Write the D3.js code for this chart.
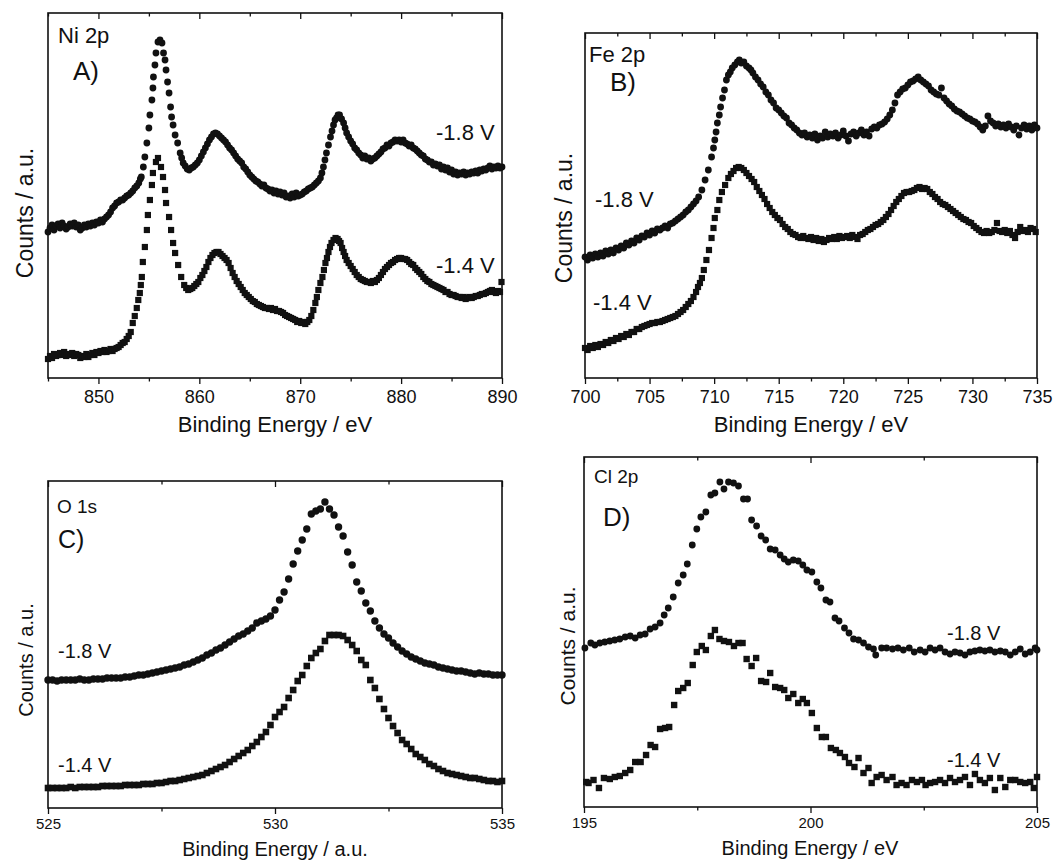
<!DOCTYPE html>
<html>
<head>
<meta charset="utf-8">
<script src="https://cdn.jsdelivr.net/npm/d3@7"></script>
<style>
  body { margin: 0; background: #fff; }
  svg { display: block; font-family: "Liberation Sans", Arial, sans-serif; }
</style>
</head>
<body>
<div id="chart"></div>
<script>

/* ---------------- DATA (binding energy, counts in a.u.) ---------------- */

// A) Ni 2p
const niHigh = [ // -1.8 V, circles
  [845.0,14.6],[845.2,15.0],[845.4,15.3],[845.6,14.8],[845.8,15.2],[846.0,15.4],[846.2,15.0],[846.4,15.5],
  [846.6,15.2],[846.8,14.9],[847.0,15.1],[847.2,15.4],[847.4,15.2],[847.6,15.5],[847.8,15.1],[848.0,15.3],
  [848.2,14.8],[848.4,15.0],[848.6,15.3],[848.8,15.1],[849.0,15.4],[849.2,15.2],[849.4,15.5],[849.6,15.3],
  [849.8,15.6],[850.0,15.5],[850.2,15.8],[850.4,15.6],[850.6,15.9],[850.8,16.1],[851.0,16.3],[851.2,16.6],
  [851.4,17.0],[851.6,17.2],[851.8,17.5],[852.0,17.6],[852.2,17.8],[852.4,17.8],[852.6,18.0],[852.8,18.2],
  [853.0,18.3],[853.2,18.5],[853.4,18.7],[853.6,19.0],[853.8,19.2],[854.0,19.5],[854.15,19.9],[854.25,20.1],
  [854.45,21.1],[854.6,22.1],[854.8,23.5],[855.0,25.0],[855.1,26.3],[855.3,27.8],[855.4,29.0],[855.45,30.1],
  [855.6,31.3],[855.7,32.5],[855.9,33.6],[856.1,33.8],[856.3,33.5],[856.45,32.5],[856.6,31.8],[856.7,30.8],
  [856.85,29.6],[857.0,28.5],[857.15,27.1],[857.25,26.1],[857.4,25.3],[857.6,24.3],[857.85,23.5],[858.1,22.5],
  [858.25,22.0],[858.4,21.5],[858.6,21.2],[858.8,20.9],[859.0,20.8],[859.2,21.0],[859.4,21.1],[859.6,21.3],
  [859.8,21.5],[860.0,21.8],[860.2,22.2],[860.4,22.6],[860.6,23.0],[860.8,23.4],[861.0,23.8],[861.2,24.1],
  [861.4,24.4],[861.6,24.5],[861.8,24.4],[862.0,24.2],[862.2,24.0],[862.4,23.8],[862.6,23.6],[862.8,23.3],
  [863.0,23.0],[863.2,22.8],[863.4,22.5],[863.6,22.2],[863.8,21.9],[864.0,21.7],[864.2,21.5],[864.4,21.1],
  [864.6,20.9],[864.8,20.6],[865.0,20.3],[865.2,20.1],[865.4,19.9],[865.6,19.7],[865.8,19.6],[866.0,19.4],
  [866.2,19.2],[866.4,19.3],[866.6,19.0],[866.8,18.9],[867.0,18.7],[867.2,18.8],[867.4,18.5],[867.6,18.7],
  [867.8,18.4],[868.0,18.6],[868.2,18.3],[868.4,18.5],[868.6,18.1],[868.8,18.2],[869.0,18.0],[869.2,18.4],
  [869.4,18.1],[869.6,18.5],[869.8,18.2],[870.0,18.3],[870.2,18.4],[870.4,18.6],[870.6,18.7],[870.8,18.9],
  [871.0,19.0],[871.2,19.1],[871.4,19.3],[871.6,19.5],[871.8,19.7],[872.0,20.0],[872.15,20.5],[872.3,21.1],
  [872.45,21.8],[872.6,22.5],[872.8,23.3],[873.0,24.1],[873.15,24.7],[873.3,25.3],[873.45,25.8],[873.6,26.0],
  [873.75,26.3],[873.9,26.3],[874.1,25.9],[874.3,25.5],[874.45,25.0],[874.6,24.5],[874.8,24.1],[875.0,23.7],
  [875.2,23.4],[875.4,23.0],[875.6,22.8],[875.8,22.5],[876.0,22.3],[876.2,22.0],[876.4,22.2],[876.6,21.9],
  [876.8,22.0],[877.0,21.7],[877.2,21.9],[877.4,22.0],[877.6,22.2],[877.8,22.4],[878.0,22.6],[878.2,22.9],
  [878.4,23.0],[878.6,23.3],[878.8,23.2],[879.0,23.5],[879.2,23.6],[879.4,23.8],[879.6,23.7],[879.8,23.8],
  [880.0,23.6],[880.2,23.8],[880.4,23.5],[880.6,23.4],[880.8,23.2],[881.0,23.3],[881.2,23.0],[881.4,22.9],
  [881.6,22.7],[881.8,22.5],[882.0,22.3],[882.2,22.2],[882.4,21.9],[882.6,21.8],[882.8,21.6],[883.0,21.6],
  [883.2,21.3],[883.4,21.4],[883.6,21.2],[883.8,21.3],[884.0,20.9],[884.2,21.1],[884.4,20.8],[884.6,21.0],
  [884.8,20.6],[885.0,20.8],[885.2,20.4],[885.4,20.6],[885.6,20.3],[885.8,20.5],[886.0,20.4],[886.2,20.6],
  [886.4,20.3],[886.6,20.5],[886.8,20.4],[887.0,20.6],[887.2,20.5],[887.4,20.7],[887.6,20.5],[887.8,20.8],
  [888.0,20.7],[888.2,20.9],[888.4,20.8],[888.6,21.0],[888.8,21.2],[889.0,20.9],[889.2,21.1],[889.4,21.0],
  [889.6,21.2],[889.8,21.0],[890.0,21.1]
];
const niLow = [ // -1.4 V, squares
  [845.0,1.9],[845.2,2.2],[845.4,2.0],[845.6,2.4],[845.8,2.2],[846.0,2.3],[846.2,2.5],[846.4,2.3],
  [846.6,2.6],[846.8,2.2],[847.0,2.4],[847.2,2.3],[847.4,2.5],[847.6,2.2],[847.8,2.4],[848.0,2.3],
  [848.2,2.0],[848.4,2.2],[848.6,2.1],[848.8,2.4],[849.0,2.1],[849.2,2.3],[849.4,2.5],[849.6,2.3],
  [849.8,2.6],[850.0,2.5],[850.2,2.7],[850.4,2.6],[850.6,2.8],[850.8,2.6],[851.0,2.7],[851.2,2.9],
  [851.4,2.7],[851.6,2.9],[851.8,3.0],[852.0,3.1],[852.2,3.3],[852.4,3.5],[852.6,3.6],[852.8,3.9],
  [853.0,4.2],[853.2,4.6],[853.4,5.5],[853.6,6.2],[853.8,7.0],[853.95,7.8],[854.1,8.5],[854.2,9.3],
  [854.3,10.1],[854.4,11.6],[854.6,13.1],[854.8,14.8],[854.9,16.3],[855.1,17.8],[855.3,19.3],[855.4,20.5],
  [855.7,21.6],[855.9,22.0],[856.2,21.1],[856.4,20.1],[856.6,18.8],[856.7,17.5],[857.0,16.1],[857.2,14.8],
  [857.4,13.5],[857.6,12.5],[857.9,11.3],[858.2,10.1],[858.5,9.3],[858.7,9.0],[858.9,8.8],[859.1,8.9],
  [859.3,9.0],[859.5,9.2],[859.7,9.4],[859.9,9.6],[860.1,10.0],[860.3,10.3],[860.5,10.7],[860.7,11.1],
  [860.9,11.6],[861.1,12.0],[861.3,12.3],[861.5,12.5],[861.7,12.6],[861.9,12.6],[862.1,12.4],[862.3,12.2],
  [862.5,12.0],[862.7,11.8],[862.9,11.5],[863.1,11.0],[863.3,10.5],[863.5,10.1],[863.7,9.7],[863.9,9.4],
  [864.1,9.1],[864.3,8.8],[864.5,8.5],[864.7,8.3],[864.9,8.1],[865.1,7.9],[865.3,7.7],[865.5,7.6],
  [865.7,7.4],[865.9,7.3],[866.1,7.2],[866.3,7.1],[866.5,7.0],[866.7,7.0],[866.9,6.9],[867.1,7.0],
  [867.3,6.8],[867.5,6.9],[867.7,6.7],[867.9,6.7],[868.1,6.6],[868.3,6.5],[868.5,6.3],[868.7,6.2],
  [868.9,6.1],[869.1,6.0],[869.3,5.9],[869.5,5.8],[869.7,5.6],[869.9,5.7],[870.1,5.5],[870.3,5.6],
  [870.5,5.4],[870.7,5.6],[870.9,5.8],[871.1,6.2],[871.3,6.8],[871.5,7.5],[871.65,8.1],[871.8,8.8],
  [872.0,9.5],[872.2,10.1],[872.35,10.8],[872.5,11.5],[872.65,12.0],[872.8,12.6],[872.95,13.1],[873.1,13.5],
  [873.3,13.8],[873.5,14.0],[873.7,13.9],[873.85,13.7],[874.0,13.5],[874.15,13.0],[874.3,12.6],[874.45,12.2],
  [874.6,11.8],[874.8,11.5],[875.0,11.2],[875.2,10.9],[875.4,10.6],[875.6,10.3],[875.8,10.1],[876.0,9.9],
  [876.2,9.8],[876.4,9.7],[876.6,9.6],[876.8,9.6],[877.0,9.5],[877.2,9.7],[877.4,9.6],[877.6,9.8],
  [877.8,10.0],[878.0,10.3],[878.2,10.6],[878.4,10.9],[878.6,11.1],[878.8,11.3],[879.0,11.5],[879.2,11.6],
  [879.4,11.8],[879.6,11.9],[879.8,12.0],[880.0,12.0],[880.2,11.9],[880.4,11.9],[880.6,11.8],[880.8,11.6],
  [881.0,11.4],[881.2,11.3],[881.4,11.0],[881.6,10.8],[881.8,10.6],[882.0,10.4],[882.2,10.1],[882.4,9.9],
  [882.6,9.7],[882.8,9.6],[883.0,9.4],[883.2,9.3],[883.4,9.2],[883.6,9.1],[883.8,9.0],[884.0,8.9],
  [884.2,8.8],[884.4,8.6],[884.6,8.6],[884.8,8.4],[885.0,8.3],[885.2,8.3],[885.4,8.2],[885.6,8.1],
  [885.8,8.1],[886.0,8.0],[886.2,8.1],[886.4,7.9],[886.6,8.0],[886.8,8.1],[887.0,8.0],[887.2,8.1],
  [887.4,8.2],[887.6,8.2],[887.8,8.3],[888.0,8.4],[888.2,8.4],[888.4,8.5],[888.6,8.6],[888.8,8.7],
  [889.0,8.8],[889.2,8.6],[889.4,8.5],[889.6,8.7],[889.8,8.6],[889.95,9.6]
];

// B) Fe 2p
const feHigh = [
  [700.0,12.1],[700.2,11.8],[700.4,12.3],[700.6,12.0],[700.8,12.4],[701.0,12.1],[701.2,12.5],[701.4,12.2],
  [701.6,12.7],[701.8,12.4],[702.0,12.8],[702.2,12.5],[702.4,13.0],[702.6,12.8],[702.8,13.2],[703.0,13.0],
  [703.2,13.5],[703.4,13.3],[703.6,13.7],[703.8,13.5],[704.0,14.0],[704.2,13.8],[704.4,14.2],[704.6,14.1],
  [704.8,14.5],[705.0,14.3],[705.2,14.7],[705.4,14.5],[705.6,14.9],[705.8,14.8],[706.0,15.0],[706.2,15.2],
  [706.4,15.0],[706.6,15.4],[706.8,15.5],[707.0,15.7],[707.2,15.9],[707.4,16.1],[707.6,16.3],[707.8,16.6],
  [708.0,16.8],[708.2,17.1],[708.4,17.4],[708.6,17.7],[708.8,18.1],[709.05,18.8],[709.3,19.8],[709.55,20.8],
  [709.8,22.1],[709.95,23.0],[710.05,23.8],[710.15,24.6],[710.25,25.5],[710.4,26.3],[710.5,27.1],[710.65,28.0],
  [710.8,28.8],[710.95,29.8],[711.1,30.3],[711.25,30.6],[711.4,31.0],[711.6,31.3],[711.8,31.6],[711.95,31.8],
  [712.1,31.5],[712.3,31.6],[712.5,31.2],[712.7,31.0],[712.85,30.8],[713.0,30.5],[713.2,30.1],[713.4,29.8],
  [713.6,29.4],[713.8,29.1],[714.0,28.6],[714.2,28.3],[714.4,27.8],[714.6,27.5],[714.8,27.0],[715.0,26.8],
  [715.2,26.5],[715.4,26.2],[715.6,26.0],[715.8,25.5],[716.0,25.3],[716.2,25.0],[716.4,24.8],[716.6,24.5],
  [716.8,24.3],[717.0,24.5],[717.2,24.1],[717.4,24.3],[717.6,24.0],[717.8,24.4],[718.0,23.8],[718.2,24.2],
  [718.4,24.0],[718.6,24.6],[718.8,24.1],[719.0,24.4],[719.2,24.2],[719.4,24.5],[719.6,24.0],[719.8,24.3],
  [720.0,24.7],[720.2,24.2],[720.4,23.7],[720.6,24.4],[720.8,24.6],[721.0,24.2],[721.2,24.5],[721.4,24.8],
  [721.6,24.3],[721.8,24.6],[722.0,24.2],[722.2,24.9],[722.4,25.1],[722.6,25.0],[722.8,25.3],[723.0,25.4],
  [723.2,25.6],[723.4,25.9],[723.6,26.3],[723.8,26.8],[724.0,27.5],[724.2,28.3],[724.4,28.6],[724.6,28.9],
  [724.8,29.0],[725.0,29.3],[725.2,29.6],[725.4,29.7],[725.6,29.9],[725.8,30.1],[726.0,29.8],[726.2,29.6],
  [726.4,29.4],[726.6,29.2],[726.8,28.8],[727.0,28.6],[727.2,28.4],[727.4,28.3],[727.6,29.0],[727.8,28.0],
  [728.0,27.7],[728.2,27.4],[728.4,27.2],[728.6,26.9],[728.8,26.7],[729.0,26.6],[729.2,26.4],[729.4,26.2],
  [729.6,26.0],[729.8,25.9],[730.0,25.7],[730.2,25.6],[730.4,25.4],[730.6,25.1],[730.8,24.8],[731.0,25.2],
  [731.2,26.2],[731.4,25.7],[731.6,25.5],[731.8,25.2],[732.0,25.4],[732.2,25.1],[732.4,25.3],[732.6,25.0],
  [732.8,25.4],[733.0,25.1],[733.2,24.8],[733.4,25.2],[733.6,24.3],[733.8,25.0],[734.0,25.3],[734.2,24.9],
  [734.4,25.2],[734.6,24.8],[734.8,25.3],[735.0,25.0]
];
const feLow = [
  [700.0,3.0],[700.2,2.8],[700.4,3.2],[700.6,3.0],[700.8,3.3],[701.0,3.1],[701.2,3.4],[701.4,3.3],
  [701.6,3.6],[701.8,3.5],[702.0,3.8],[702.2,3.7],[702.4,4.0],[702.6,3.9],[702.8,4.2],[703.0,4.1],
  [703.2,4.4],[703.4,4.3],[703.6,4.6],[703.8,4.6],[704.0,4.9],[704.2,4.9],[704.4,5.1],[704.6,5.2],
  [704.8,5.3],[705.0,5.4],[705.2,5.5],[705.4,5.5],[705.6,5.6],[705.8,5.6],[706.0,5.7],[706.2,5.8],
  [706.4,5.9],[706.6,6.0],[706.8,6.1],[707.0,6.2],[707.2,6.4],[707.4,6.6],[707.6,6.8],[707.8,7.1],
  [708.0,7.4],[708.2,7.7],[708.4,8.1],[708.6,8.6],[708.75,9.1],[708.9,9.5],[709.05,10.0],[709.2,10.8],
  [709.4,11.8],[709.6,12.8],[709.8,14.0],[709.95,15.0],[710.05,16.0],[710.25,16.8],[710.4,17.8],[710.6,18.6],
  [710.85,19.3],[711.1,20.0],[711.3,20.4],[711.5,20.7],[711.7,21.0],[711.9,21.1],[712.1,21.0],[712.3,20.8],
  [712.5,20.5],[712.7,20.2],[712.9,19.9],[713.1,19.6],[713.3,19.1],[713.5,18.7],[713.7,18.3],[713.9,17.9],
  [714.1,17.4],[714.3,17.0],[714.5,16.6],[714.7,16.3],[714.9,16.0],[715.1,15.8],[715.3,15.4],[715.5,15.1],
  [715.7,14.9],[715.9,14.6],[716.1,14.4],[716.3,14.3],[716.5,14.1],[716.7,14.0],[716.9,14.2],[717.1,14.0],
  [717.3,13.9],[717.5,14.1],[717.7,13.8],[717.9,14.0],[718.1,13.7],[718.3,13.9],[718.5,13.6],[718.7,13.8],
  [718.9,14.0],[719.1,13.9],[719.3,14.1],[719.5,13.9],[719.7,14.2],[719.9,14.0],[720.1,14.1],[720.3,14.2],
  [720.5,14.0],[720.7,14.3],[720.9,14.1],[721.1,13.9],[721.3,14.3],[721.5,14.4],[721.7,14.6],[721.9,14.8],
  [722.1,14.9],[722.3,15.1],[722.5,15.3],[722.7,15.4],[722.9,15.6],[723.1,15.8],[723.3,16.1],[723.5,16.4],
  [723.7,16.8],[723.9,17.2],[724.1,17.6],[724.3,17.9],[724.5,18.2],[724.7,18.5],[724.9,18.6],[725.1,18.6],
  [725.3,18.7],[725.5,18.8],[725.7,19.0],[725.9,19.1],[726.1,18.9],[726.3,19.0],[726.5,18.9],[726.7,18.6],
  [726.9,18.4],[727.1,18.1],[727.3,17.9],[727.5,17.6],[727.7,17.4],[727.9,17.3],[728.1,17.1],[728.3,16.9],
  [728.5,16.7],[728.7,16.5],[728.9,16.3],[729.1,16.1],[729.3,15.9],[729.5,15.8],[729.7,15.6],[729.9,15.5],
  [730.1,15.2],[730.3,15.0],[730.5,14.8],[730.7,14.6],[730.9,14.5],[731.1,14.7],[731.3,14.5],[731.5,14.6],
  [731.7,14.8],[731.9,15.5],[732.1,14.7],[732.3,14.6],[732.5,14.8],[732.7,14.5],[732.9,14.7],[733.1,14.3],
  [733.3,14.0],[733.5,14.6],[733.7,15.1],[733.9,14.7],[734.1,14.8],[734.3,14.6],[734.5,15.0],[734.7,14.9],
  [734.9,14.6]
];

// C) O 1s
const oHigh = [
  [525.0,12.8],[525.1,12.8],[525.2,12.7],[525.3,12.8],[525.4,12.8],[525.5,12.8],[525.6,12.8],[525.7,12.9],[525.8,12.8],[525.9,12.8],
  [526.0,12.9],[526.1,12.9],[526.2,12.9],[526.3,13.0],[526.4,13.0],[526.5,13.0],[526.6,13.0],[526.7,13.1],[526.8,13.1],[526.9,13.2],
  [527.0,13.3],[527.1,13.3],[527.2,13.4],[527.3,13.5],[527.4,13.6],[527.5,13.7],[527.6,13.8],[527.7,13.9],[527.8,14.0],[527.9,14.1],
  [528.0,14.3],[528.1,14.4],[528.2,14.6],[528.3,14.8],[528.4,15.0],[528.5,15.3],[528.6,15.5],[528.7,15.8],[528.8,16.0],[528.9,16.3],
  [529.0,16.6],[529.1,16.9],[529.2,17.2],[529.3,17.4],[529.4,17.7],[529.5,18.0],[529.6,18.5],[529.7,18.7],[529.8,18.9],[529.9,19.2],
  [530.0,19.8],[530.1,20.8],[530.2,21.6],[530.3,22.9],[530.4,24.4],[530.5,25.7],[530.6,26.8],[530.7,27.9],[530.8,29.4],[530.9,29.7],
  [531.0,29.9],[531.1,30.6],[531.2,29.9],[531.3,29.3],[531.4,28.1],[531.5,27.2],[531.6,25.6],[531.7,24.3],[531.8,22.6],[531.9,21.7],
  [532.0,20.5],[532.1,19.7],[532.2,18.7],[532.3,18.0],[532.4,17.4],[532.5,17.0],[532.6,16.5],[532.7,16.1],[532.8,15.7],[532.9,15.4],
  [533.0,15.1],[533.1,14.9],[533.2,14.7],[533.3,14.5],[533.4,14.4],[533.5,14.3],[533.6,14.1],[533.7,14.0],[533.8,13.9],[533.9,13.8],
  [534.0,13.7],[534.1,13.7],[534.2,13.6],[534.3,13.5],[534.4,13.4],[534.5,13.5],[534.6,13.4],[534.7,13.4],[534.8,13.3],[534.9,13.3],[535.0,13.3]
];
const oLow = [
  [525.0,2.0],[525.1,2.0],[525.2,2.0],[525.3,2.0],[525.4,2.0],[525.5,2.1],[525.6,2.0],[525.7,2.1],[525.8,2.1],[525.9,2.1],
  [526.0,2.1],[526.1,2.1],[526.2,2.2],[526.3,2.2],[526.4,2.2],[526.5,2.2],[526.6,2.2],[526.7,2.3],[526.8,2.3],[526.9,2.3],
  [527.0,2.3],[527.1,2.4],[527.2,2.4],[527.3,2.4],[527.4,2.5],[527.5,2.5],[527.6,2.6],[527.7,2.7],[527.8,2.7],[527.9,2.8],
  [528.0,2.9],[528.1,3.0],[528.2,3.1],[528.3,3.2],[528.4,3.3],[528.5,3.5],[528.6,3.7],[528.7,3.9],[528.8,4.1],[528.9,4.3],
  [529.0,4.6],[529.1,4.9],[529.2,5.2],[529.3,5.5],[529.4,5.8],[529.5,6.2],[529.6,6.6],[529.7,7.1],[529.8,7.6],[529.9,8.3],
  [530.0,9.1],[530.1,9.6],[530.2,10.1],[530.3,11.0],[530.4,11.8],[530.5,12.7],[530.6,13.3],[530.7,14.2],[530.8,15.0],[530.9,15.5],
  [531.0,15.9],[531.1,16.7],[531.2,17.3],[531.3,17.3],[531.4,17.3],[531.5,17.2],[531.6,16.8],[531.7,16.3],[531.8,15.7],[531.9,14.8],
  [532.0,14.3],[532.1,12.8],[532.2,12.0],[532.3,10.9],[532.4,9.9],[532.5,9.0],[532.6,8.2],[532.7,7.5],[532.8,6.8],[532.9,6.4],
  [533.0,5.9],[533.1,5.4],[533.2,5.1],[533.3,4.8],[533.4,4.4],[533.5,4.2],[533.6,3.9],[533.7,3.7],[533.8,3.5],[533.9,3.4],
  [534.0,3.3],[534.1,3.2],[534.2,3.1],[534.3,3.0],[534.4,3.0],[534.5,2.9],[534.6,2.8],[534.7,2.7],[534.8,2.7],[534.9,2.6],[535.0,2.7]
];

// D) Cl 2p
const clHigh = [
  [195.02,15.9],[195.15,16.4],[195.24,16.2],[195.35,16.4],[195.46,16.5],[195.57,16.6],[195.68,16.7],[195.79,16.8],
  [195.91,17.0],[196.02,17.1],[196.13,16.9],[196.24,17.2],[196.35,17.3],[196.46,17.8],[196.57,18.0],[196.68,18.4],
  [196.77,19.2],[196.86,19.9],[196.97,21.0],[197.08,22.4],[197.19,23.2],[197.28,24.3],[197.39,26.2],[197.49,27.8],
  [197.58,29.0],[197.69,29.5],[197.8,31.2],[197.89,31.4],[198.0,32.5],[198.09,31.8],[198.19,32.5],[198.3,32.4],
  [198.41,32.1],[198.52,30.8],[198.61,30.8],[198.7,28.7],[198.81,28.1],[198.91,27.1],[199.01,26.7],[199.11,25.8],
  [199.22,25.7],[199.33,25.2],[199.42,24.8],[199.51,24.5],[199.62,24.7],[199.73,24.6],[199.83,24.2],[199.92,23.7],
  [200.03,23.5],[200.14,22.5],[200.23,21.9],[200.34,20.7],[200.43,20.5],[200.54,18.9],[200.63,18.6],[200.75,17.9],
  [200.85,17.4],[200.95,16.8],[201.06,16.7],[201.17,16.4],[201.28,16.0],[201.39,15.8],[201.44,15.2],[201.57,15.9],
  [201.68,15.9],[201.81,15.8],[201.93,15.9],[202.05,15.7],[202.18,15.9],[202.29,15.5],[202.42,15.7],[202.53,15.5],
  [202.64,15.9],[202.75,15.7],[202.86,15.9],[202.97,15.5],[203.08,15.3],[203.19,15.5],[203.3,15.4],[203.41,15.2],
  [203.52,15.5],[203.63,15.6],[203.74,15.7],[203.85,15.6],[203.96,15.7],[204.07,15.5],[204.19,15.6],[204.3,15.5],
  [204.41,15.2],[204.52,15.5],[204.63,15.8],[204.74,15.3],[204.85,15.5],[204.96,15.9],[205.0,15.7]
];
const clLow = [
  [195.05,2.5],[195.1,2.4],[195.21,2.7],[195.33,1.9],[195.44,2.9],[195.57,2.8],[195.68,3.0],[195.79,3.1],
  [195.91,3.4],[196.02,3.7],[196.13,4.5],[196.25,4.5],[196.37,5.2],[196.47,6.2],[196.57,6.0],[196.68,7.8],
  [196.79,7.9],[196.88,8.0],[196.99,10.2],[197.08,11.6],[197.19,11.9],[197.29,12.4],[197.4,14.2],[197.49,15.5],
  [197.6,16.1],[197.69,15.7],[197.8,17.1],[197.89,17.7],[197.99,16.8],[198.09,16.6],[198.2,16.5],[198.31,16.1],
  [198.41,16.4],[198.5,16.4],[198.59,14.8],[198.7,14.1],[198.8,14.9],[198.91,12.6],[199.02,12.5],[199.11,13.4],
  [199.22,12.0],[199.33,11.9],[199.42,11.7],[199.51,10.9],[199.62,11.3],[199.73,10.4],[199.83,10.8],[199.92,10.4],
  [200.03,9.4],[200.14,7.9],[200.25,7.0],[200.34,7.0],[200.45,5.9],[200.56,5.7],[200.65,5.4],[200.76,5.0],
  [200.85,4.4],[200.97,4.0],[201.06,4.9],[201.17,3.4],[201.28,3.9],[201.35,2.4],[201.46,3.0],[201.57,3.2],
  [201.68,2.7],[201.81,3.0],[201.9,2.2],[202.01,2.4],[202.12,2.2],[202.24,2.7],[202.35,2.5],[202.46,2.7],
  [202.54,2.2],[202.64,2.4],[202.75,2.5],[202.86,2.7],[202.97,2.4],[203.08,2.9],[203.19,2.5],[203.3,2.7],
  [203.41,3.0],[203.52,2.2],[203.63,3.3],[203.74,2.7],[203.85,2.4],[203.96,2.9],[204.07,1.7],[204.19,2.9],
  [204.3,2.0],[204.41,2.7],[204.52,2.7],[204.63,2.5],[204.74,2.4],[204.85,2.5],[204.93,1.9],[205.0,3.0]
];

// tick values
const niTicks = [850, 860, 870, 880, 890], niMinor = [845, 855, 865, 875, 885];
const feTicks = [700, 705, 710, 715, 720, 725, 730, 735];
const feMinor = [702.5, 707.5, 712.5, 717.5, 722.5, 727.5, 732.5];
const oTicks = [525, 530, 535], oMinor = [527.5, 532.5];
const clTicks = [195, 200, 205], clMinor = [197.5, 202.5];

/* ---------------- PANELS ---------------- */
const panels = [
  { left:48, right:502, top:13, bottom:378, xDomain:[845,890], yMax:36.5,
    major:niTicks, minor:niMinor, tickFont:18, high:niHigh, low:niLow,
    element:"Ni 2p", elX:58, elY:43, elSize:22,
    letter:"A)", letX:73, letY:80, letSize:26,
    v18:[436,140], v14:[436,273], vSize:22,
    xTitle:"Binding Energy / eV", xtX:275, xtY:432, xtSize:22,
    ytX:33, ytY:213, ytSize:23, r:3.4, sq:6.2 },
  { left:585, right:1037, top:33, bottom:378, xDomain:[700,735], yMax:34.5,
    major:feTicks, minor:feMinor, tickFont:18, high:feHigh, low:feLow,
    element:"Fe 2p", elX:589, elY:62, elSize:22,
    letter:"B)", letX:610, letY:91, letSize:26,
    v18:[595,207], v14:[593,310], vSize:22,
    xTitle:"Binding Energy / eV", xtX:811, xtY:432, xtSize:22,
    ytX:572, ytY:218, ytSize:23, r:3.4, sq:6.2 },
  { left:48, right:502, top:481, bottom:808, xDomain:[525,535], yMax:32.7,
    major:oTicks, minor:oMinor, tickFont:15, high:oHigh, low:oLow,
    element:"O 1s", elX:57, elY:513, elSize:19,
    letter:"C)", letX:58, letY:548, letSize:25,
    v18:[58,658], v14:[58,772], vSize:20,
    xTitle:"Binding Energy / a.u.", xtX:275, xtY:856, xtSize:20,
    ytX:33, ytY:660, ytSize:20, r:3.7, sq:6.6 },
  { left:584, right:1037, top:457, bottom:807, xDomain:[195,205], yMax:35.0,
    major:clTicks, minor:clMinor, tickFont:15, high:clHigh, low:clLow,
    element:"Cl 2p", elX:594, elY:483, elSize:19,
    letter:"D)", letX:603, letY:526, letSize:26,
    v18:[947,640], v14:[947,767], vSize:20,
    xTitle:"Binding Energy / eV", xtX:810, xtY:855, xtSize:20,
    ytX:575, ytY:646, ytSize:21, r:3.4, sq:6.4 }
];

const svg = d3.select("#chart").append("svg")
  .attr("width", 1063).attr("height", 862)
  .style("background", "#fff");

const ink = "#111";

function text(g, str, x, y, size, anchor) {
  return g.append("text")
    .attr("x", x).attr("y", y)
    .attr("text-anchor", anchor || "start")
    .style("font-size", size + "px")
    .attr("fill", ink)
    .text(str);
}

panels.forEach(p => {
  const g = svg.append("g");
  const x = d3.scaleLinear().domain(p.xDomain).range([p.left, p.right]);
  const y = d3.scaleLinear().domain([0, p.yMax]).range([p.bottom, p.top]);

  /* ---- ticks ---- */
  const clean = a => a.call(s => s.select(".domain").remove())
    .call(s => s.selectAll("line").attr("stroke", ink).attr("stroke-width", 1.3));

  g.append("g").attr("transform", `translate(0,${p.bottom})`)
    .call(d3.axisBottom(x).tickValues(p.minor).tickSize(3.5).tickFormat(""))
    .call(clean);
  const bottom = g.append("g").attr("transform", `translate(0,${p.bottom})`)
    .call(d3.axisBottom(x).tickValues(p.major).tickSize(6).tickPadding(p.tickFont > 16 ? 6 : 4).tickFormat(d3.format("d")))
    .call(clean);
  bottom.selectAll("text")
    .attr("fill", ink)
    .style("font-size", p.tickFont + "px")
    .style("font-family", '"Liberation Sans", Arial, sans-serif');

  g.append("g").attr("transform", `translate(0,${p.top})`)
    .call(d3.axisTop(x).tickValues(p.major).tickSize(-6).tickFormat(""))
    .call(clean);
  g.append("g").attr("transform", `translate(0,${p.top})`)
    .call(d3.axisTop(x).tickValues(p.minor).tickSize(-3.5).tickFormat(""))
    .call(clean);

  /* ---- frame ---- */
  g.append("rect")
    .attr("x", p.left).attr("y", p.top)
    .attr("width", p.right - p.left).attr("height", p.bottom - p.top)
    .attr("fill", "none").attr("stroke", ink).attr("stroke-width", 1.6);

  /* ---- markers ---- */
  g.append("g").selectAll("path").data(p.high).join("path")
    .attr("transform", d => `translate(${x(d[0])},${y(d[1])})`)
    .attr("d", d3.symbol(d3.symbolCircle, Math.PI * p.r * p.r))
    .attr("fill", ink);
  g.append("g").selectAll("path").data(p.low).join("path")
    .attr("transform", d => `translate(${x(d[0])},${y(d[1])})`)
    .attr("d", d3.symbol(d3.symbolSquare, p.sq * p.sq))
    .attr("fill", ink);

  /* ---- labels ---- */
  text(g, p.element, p.elX, p.elY, p.elSize);
  text(g, p.letter, p.letX, p.letY, p.letSize);
  text(g, "-1.8 V", p.v18[0], p.v18[1], p.vSize);
  text(g, "-1.4 V", p.v14[0], p.v14[1], p.vSize);
  text(g, p.xTitle, p.xtX, p.xtY, p.xtSize, "middle");
  g.append("text")
    .attr("transform", `translate(${p.ytX},${p.ytY}) rotate(-90)`)
    .attr("text-anchor", "middle")
    .style("font-size", p.ytSize + "px")
    .attr("fill", ink)
    .text("Counts / a.u.");
});
</script>
</body>
</html>
